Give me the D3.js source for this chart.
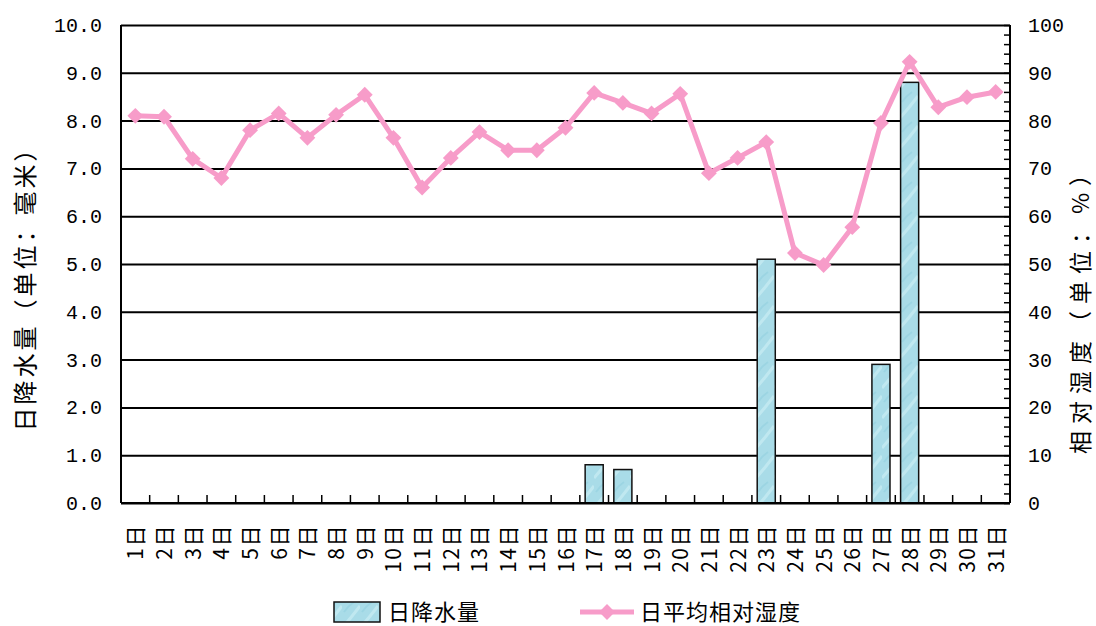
<!DOCTYPE html>
<html>
<head>
<meta charset="utf-8">
<script src="https://cdn.jsdelivr.net/npm/d3@7/dist/d3.min.js"></script>
<style>
  body { margin: 0; background: #fff; }
  .num text { font-family: "Liberation Mono", monospace; font-size: 20px; fill: #000; }
  .cjk { font-family: "Noto Sans CJK SC", sans-serif; fill: #000; }
  .domain { display: none; }
</style>
</head>
<body>
<div id="chart"></div>
<script>
// days of the month
var days = d3.range(1, 32).map(function(d) { return d + "日"; });

// daily precipitation (mm)
var rain = [0, 0, 0, 0, 0, 0, 0, 0, 0, 0, 0, 0, 0, 0, 0, 0,
            0.8, 0.7, 0, 0, 0, 0, 5.1, 0, 0, 0, 2.9, 8.8, 0, 0, 0];

// daily mean relative humidity (%)
var humidity = [81, 80.8, 72, 68, 78, 81.5, 76.4, 81.2, 85.4, 76.4,
                66, 72.2, 77.6, 73.8, 73.8, 78.5, 85.8, 83.7, 81.5, 85.6,
                69, 72.2, 75.5, 52.3, 49.8, 57.7, 79.5, 92.3, 82.8, 84.9, 86];

var leftTicks = d3.range(0, 10.5, 1);
var rightTicks = d3.range(0, 101, 10);

var W = 1096, H = 626;
var margin = { top: 25, right: 1010, bottom: 503, left: 121 };

var svg = d3.select("#chart").append("svg")
    .attr("width", W)
    .attr("height", H);

var defs = svg.append("defs");
var pat = defs.append("pattern")
    .attr("id", "water")
    .attr("patternUnits", "userSpaceOnUse")
    .attr("width", 18).attr("height", 30);
pat.append("rect").attr("width", 18).attr("height", 30).attr("fill", "#a9dce8");
pat.append("path").attr("d", "M0,28 Q9,18 18,6").attr("fill", "none").attr("stroke", "#c6ebf3").attr("stroke-width", 3).attr("opacity", 0.8);
pat.append("path").attr("d", "M2,12 Q6,6 12,2").attr("fill", "none").attr("stroke", "#93d0df").attr("stroke-width", 2).attr("opacity", 0.6);

var x = d3.scaleBand()
    .domain(days)
    .range([margin.left, margin.right])
    .paddingInner(0.37)
    .paddingOuter(0.185);

var y = d3.scaleLinear().domain([0, 10]).range([margin.bottom, margin.top]);
var y2 = d3.scaleLinear().domain([0, 100]).range([margin.bottom, margin.top]);
var step = x.step();

// gridlines
svg.append("g")
    .attr("transform", "translate(" + margin.left + ",0)")
    .call(d3.axisLeft(y)
        .tickValues(leftTicks)
        .tickSize(-(margin.right - margin.left))
        .tickFormat(""))
    .selectAll("line")
    .attr("stroke", "#000")
    .attr("stroke-width", 2);

// left labels
svg.append("g")
    .attr("class", "num")
    .attr("transform", "translate(" + margin.left + ",0)")
    .call(d3.axisLeft(y)
        .tickValues(leftTicks)
        .tickSize(0)
        .tickPadding(19)
        .tickFormat(d3.format(".1f")));

// right minor ticks
svg.append("g")
    .attr("transform", "translate(" + margin.right + ",0)")
    .call(d3.axisRight(y2)
        .tickValues(d3.range(0, 101, 2))
        .tickSize(-6)
        .tickFormat(""))
    .selectAll("line")
    .attr("stroke", "#000")
    .attr("stroke-width", 1.5);

// right labels
svg.append("g")
    .attr("class", "num")
    .attr("transform", "translate(" + margin.right + ",0)")
    .call(d3.axisRight(y2)
        .tickValues(rightTicks)
        .tickSize(0)
        .tickPadding(18)
        .tickFormat(d3.format("d")));

// bottom ticks between categories
svg.append("g")
    .selectAll("line")
    .data(days.slice(1))
    .join("line")
    .attr("x1", function(d) { return x(d) - step * 0.185; })
    .attr("x2", function(d) { return x(d) - step * 0.185; })
    .attr("y1", margin.bottom)
    .attr("y2", margin.bottom - 8)
    .attr("stroke", "#000")
    .attr("stroke-width", 1.5);

// bars
svg.append("g")
    .selectAll("rect")
    .data(days.map(function(d, i) { return { day: d, v: rain[i] }; }).filter(function(d) { return d.v > 0; }))
    .join("rect")
    .attr("x", function(d) { return x(d.day); })
    .attr("y", function(d) { return y(d.v); })
    .attr("width", x.bandwidth())
    .attr("height", function(d) { return margin.bottom - y(d.v); })
    .attr("fill", "url(#water)")
    .attr("stroke", "#111")
    .attr("stroke-width", 1.5);

// axis lines
svg.append("line").attr("x1", margin.left).attr("x2", margin.left).attr("y1", margin.top).attr("y2", margin.bottom)
    .attr("stroke", "#000").attr("stroke-width", 2);
svg.append("line").attr("x1", margin.right).attr("x2", margin.right).attr("y1", margin.top).attr("y2", margin.bottom)
    .attr("stroke", "#000").attr("stroke-width", 2);
svg.append("line").attr("x1", margin.left).attr("x2", margin.right).attr("y1", margin.bottom).attr("y2", margin.bottom)
    .attr("stroke", "#000").attr("stroke-width", 2);

// humidity line
var pink = "#f79cc9";
var hd = days.map(function(d, i) { return { day: d, v: humidity[i] }; });
svg.append("path")
    .datum(hd)
    .attr("fill", "none")
    .attr("stroke", pink)
    .attr("stroke-width", 5)
    .attr("stroke-linejoin", "round")
    .attr("d", d3.line()
        .x(function(d) { return x(d.day) + x.bandwidth() / 2; })
        .y(function(d) { return y2(d.v); }));

var diamond = d3.symbol().type(d3.symbolDiamond2).size(160);
svg.append("g")
    .selectAll("path")
    .data(hd)
    .join("path")
    .attr("transform", function(d) { return "translate(" + (x(d.day) + x.bandwidth() / 2) + "," + y2(d.v) + ")"; })
    .attr("d", diamond)
    .attr("fill", pink);

// category labels, rotated
svg.append("g")
    .selectAll("text")
    .data(days)
    .join("text")
    .attr("class", "cjk")
    .attr("transform", function(d) { return "translate(" + (x(d) + x.bandwidth() / 2 + 8) + "," + 524 + ") rotate(-90)"; })
    .attr("text-anchor", "end")
    .style("font-size", "21px")
    .style("letter-spacing", "1.5px")
    .text(function(d) { return d; });

// axis titles
svg.append("text")
    .attr("class", "cjk")
    .attr("transform", "translate(34,283) rotate(-90)")
    .attr("text-anchor", "middle")
    .style("font-size", "24px")
    .style("letter-spacing", "3px")
    .text("日降水量（单位：毫米）");

svg.append("text")
    .attr("class", "cjk")
    .attr("transform", "translate(1089,305) rotate(-90)")
    .attr("text-anchor", "middle")
    .style("font-size", "23px")
    .style("letter-spacing", "7px")
    .text("相对湿度（单位：%）");

// legend
var lg = svg.append("g");
lg.append("rect")
    .attr("x", 334).attr("y", 602).attr("width", 46).attr("height", 20)
    .attr("fill", "url(#water)").attr("stroke", "#111").attr("stroke-width", 1.5);
lg.append("text")
    .attr("class", "cjk")
    .attr("x", 388).attr("y", 620)
    .style("font-size", "22px")
    .style("letter-spacing", "1px")
    .text("日降水量");
lg.append("line")
    .attr("x1", 580).attr("x2", 634).attr("y1", 612).attr("y2", 612)
    .attr("stroke", pink).attr("stroke-width", 5);
lg.append("path")
    .attr("transform", "translate(607,612)")
    .attr("d", diamond)
    .attr("fill", pink);
lg.append("text")
    .attr("class", "cjk")
    .attr("x", 640).attr("y", 620)
    .style("font-size", "22px")
    .style("letter-spacing", "1px")
    .text("日平均相对湿度");
</script>
</body>
</html>
